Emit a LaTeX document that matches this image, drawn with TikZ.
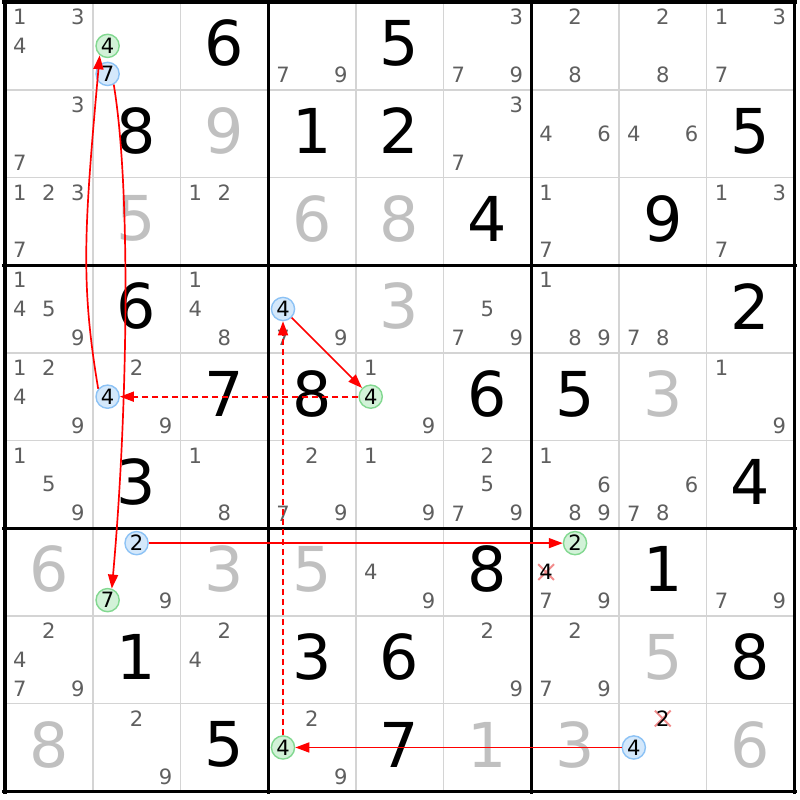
\documentclass[tikz,border=0pt]{standalone}
\usepackage{fontspec}
\setmainfont{DejaVu Sans}
\usetikzlibrary{arrows.meta}

\definecolor{candgray}{HTML}{5F5F5F}
\definecolor{solvedgray}{HTML}{C0C0C0}
\definecolor{gridgray}{HTML}{D4D4D4}
\definecolor{bluefill}{HTML}{D4E8FB}
\definecolor{blueedge}{HTML}{8CC2F5}
\definecolor{greenfill}{HTML}{D2F2D8}
\definecolor{greenedge}{HTML}{82D890}
\definecolor{crossred}{HTML}{F28C8C}

\tikzset{
    givendigit/.style={font=\fontsize{44}{44}\selectfont, text=black, inner sep=0pt},
    solveddigit/.style={givendigit, text=solvedgray},
    candidate/.style={font=\fontsize{15}{15}\selectfont, text=candgray, inner sep=0pt},
    marked/.style={candidate, text=black, circle, minimum size=0.58cm, line width=1pt},
    bluemark/.style={marked, draw=blueedge, fill=bluefill},
    greenmark/.style={marked, draw=greenedge, fill=greenfill},
    stronglink/.style={draw=red, line width=1.2pt, -{Triangle[length=0.35cm,width=0.25cm]}},
    weaklink/.style={stronglink, dash pattern=on 0.15cm off 0.1cm},
}

% row, column, digit, style
\newcommand\bigdigit[4]{\node[#4] (r#1c#2) at (#2-0.5, #1-0.53) {#3};}
% row, column, list of candidates
\newcommand\cands[3]{%
    \foreach \d in {#3} {
        \node[candidate] (r#1c#2n\d) at ({#2-1+0.17+0.33*mod(\d-1,3)}, {#1-1+0.17+0.33*floor((\d-1)/3)}) {\d};
    }}

\begin{document}
\begin{tikzpicture}[x=2.1925cm, y=-2.1925cm]
    \path[fill=white, use as bounding box] (-0.057,-0.023) rectangle (9.065,9.099);

    \foreach \i in {1,2,4,5,7,8} {
        \draw[gridgray, line width=1.2pt] (\i,0) -- (\i,9);
        \draw[gridgray, line width=1.2pt] (0,\i) -- (9,\i);
    }
    \foreach \i in {0,3,6,9} {
        \draw[black, line width=2.2pt] (\i,-0.035) -- (\i,9.035);
        \draw[black, line width=2.2pt] (-0.035,\i) -- (9.035,\i);
    }

    \cands{1}{1}{1,3,4}
    \bigdigit{1}{3}{6}{givendigit}
    \cands{1}{4}{7,9}
    \bigdigit{1}{5}{5}{givendigit}
    \cands{1}{6}{3,7,9}
    \cands{1}{7}{2,8}
    \cands{1}{8}{2,8}
    \cands{1}{9}{1,3,7}

    \cands{2}{1}{3,7}
    \bigdigit{2}{2}{8}{givendigit}
    \bigdigit{2}{3}{9}{solveddigit}
    \bigdigit{2}{4}{1}{givendigit}
    \bigdigit{2}{5}{2}{givendigit}
    \cands{2}{6}{3,7}
    \cands{2}{7}{4,6}
    \cands{2}{8}{4,6}
    \bigdigit{2}{9}{5}{givendigit}

    \cands{3}{1}{1,2,3,7}
    \bigdigit{3}{2}{5}{solveddigit}
    \cands{3}{3}{1,2}
    \bigdigit{3}{4}{6}{solveddigit}
    \bigdigit{3}{5}{8}{solveddigit}
    \bigdigit{3}{6}{4}{givendigit}
    \cands{3}{7}{1,7}
    \bigdigit{3}{8}{9}{givendigit}
    \cands{3}{9}{1,3,7}

    \cands{4}{1}{1,4,5,9}
    \bigdigit{4}{2}{6}{givendigit}
    \cands{4}{3}{1,4,8}
    \cands{4}{4}{7,9}
    \bigdigit{4}{5}{3}{solveddigit}
    \cands{4}{6}{5,7,9}
    \cands{4}{7}{1,8,9}
    \cands{4}{8}{7,8}
    \bigdigit{4}{9}{2}{givendigit}

    \cands{5}{1}{1,2,4,9}
    \cands{5}{2}{2,9}
    \bigdigit{5}{3}{7}{givendigit}
    \bigdigit{5}{4}{8}{givendigit}
    \cands{5}{5}{1,9}
    \bigdigit{5}{6}{6}{givendigit}
    \bigdigit{5}{7}{5}{givendigit}
    \bigdigit{5}{8}{3}{solveddigit}
    \cands{5}{9}{1,9}

    \cands{6}{1}{1,5,9}
    \bigdigit{6}{2}{3}{givendigit}
    \cands{6}{3}{1,8}
    \cands{6}{4}{2,7,9}
    \cands{6}{5}{1,9}
    \cands{6}{6}{2,5,7,9}
    \cands{6}{7}{1,6,8,9}
    \cands{6}{8}{6,7,8}
    \bigdigit{6}{9}{4}{givendigit}

    \bigdigit{7}{1}{6}{solveddigit}
    \cands{7}{2}{9}
    \bigdigit{7}{3}{3}{solveddigit}
    \bigdigit{7}{4}{5}{solveddigit}
    \cands{7}{5}{4,9}
    \bigdigit{7}{6}{8}{givendigit}
    \cands{7}{7}{7,9}
    \bigdigit{7}{8}{1}{givendigit}
    \cands{7}{9}{7,9}

    \cands{8}{1}{2,4,7,9}
    \bigdigit{8}{2}{1}{givendigit}
    \cands{8}{3}{2,4}
    \bigdigit{8}{4}{3}{givendigit}
    \bigdigit{8}{5}{6}{givendigit}
    \cands{8}{6}{2,9}
    \cands{8}{7}{2,7,9}
    \bigdigit{8}{8}{5}{solveddigit}
    \bigdigit{8}{9}{8}{givendigit}

    \bigdigit{9}{1}{8}{solveddigit}
    \cands{9}{2}{2,9}
    \bigdigit{9}{3}{5}{givendigit}
    \cands{9}{4}{2,9}
    \bigdigit{9}{5}{7}{givendigit}
    \bigdigit{9}{6}{1}{solveddigit}
    \bigdigit{9}{7}{3}{solveddigit}
    \bigdigit{9}{9}{6}{solveddigit}

    % eliminated candidates
    \draw[crossred, line width=1.4pt] (6.08,6.41) -- (6.26,6.59) (6.08,6.59) -- (6.26,6.41);
    \draw[crossred, line width=1.4pt] (7.41,8.08) -- (7.59,8.26) (7.41,8.26) -- (7.59,8.08);
    \node[candidate, text=black] (r7c7n4) at (6.17,6.50) {4};
    \node[candidate, text=black] (r9c8n2) at (7.50,8.17) {2};

    % chain
    \node[greenmark] (r1c2n4) at (1.17,0.50) {4};
    \node[bluemark]  (r1c2n7) at (1.17,0.82) {7};
    \node[bluemark]  (r4c4n4) at (3.17,3.50) {4};
    \node[bluemark]  (r5c2n4) at (1.17,4.50) {4};
    \node[greenmark] (r5c5n4) at (4.17,4.50) {4};
    \node[bluemark]  (r7c2n2) at (1.50,6.17) {2};
    \node[greenmark] (r7c2n7) at (1.17,6.82) {7};
    \node[greenmark] (r7c7n2) at (6.50,6.17) {2};
    \node[greenmark] (r9c4n4) at (3.17,8.50) {4};
    \node[bluemark]  (r9c8n4) at (7.17,8.50) {4};

    \draw[stronglink] (r1c2n7.-60) .. controls +(0.2,1.2) and +(0.18,-2) .. (r7c2n7.70);
    \draw[stronglink] (r5c2n4.140) .. controls +(-0.2,-1.2) and +(-0.18,2) .. (r1c2n4.-130);
    \draw[stronglink] (r4c4n4) -- (r5c5n4);
    \draw[weaklink] (r5c5n4) -- (r5c2n4);
    \draw[weaklink] (r9c4n4) -- (r4c4n4);
    \draw[stronglink] (r7c2n2) -- (r7c7n2);
    \draw[stronglink] (r9c8n4) -- (r9c4n4);
\end{tikzpicture}
\end{document}
